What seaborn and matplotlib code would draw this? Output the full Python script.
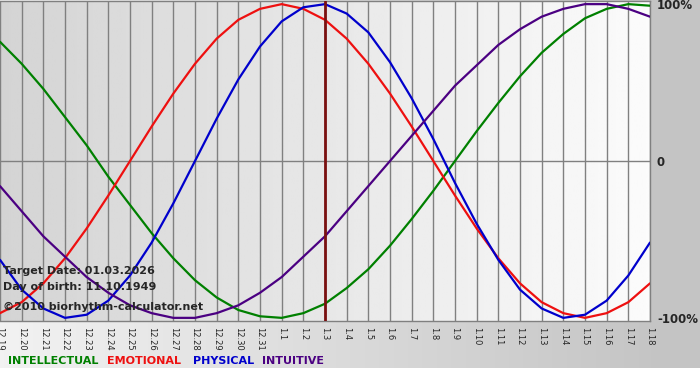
import seaborn as sns
import matplotlib.pyplot as plt
import pandas as pd
import numpy as np

# datas do eixo x (mes.dia), alvo = 1.3
rotulos_dias = ["12.19", "12.20", "12.21", "12.22", "12.23", "12.24", "12.25", "12.26",
                "12.27", "12.28", "12.29", "12.30", "12.31", "1.1", "1.2", "1.3",
                "1.4", "1.5", "1.6", "1.7", "1.8", "1.9", "1.10", "1.11", "1.12",
                "1.13", "1.14", "1.15", "1.16", "1.17", "1.18"]

intelectual = [0.76, 0.62, 0.46, 0.28, 0.10, -0.10, -0.28, -0.46, -0.62, -0.76, -0.87,
               -0.95, -0.99, -1.00, -0.97, -0.91, -0.81, -0.69, -0.54, -0.37, -0.19,
               0.00, 0.19, 0.37, 0.54, 0.69, 0.81, 0.91, 0.97, 1.00, 0.99]
emocional = [-0.97, -0.90, -0.78, -0.62, -0.43, -0.22, 0.00, 0.22, 0.43, 0.62, 0.78,
             0.90, 0.97, 1.00, 0.97, 0.90, 0.78, 0.62, 0.43, 0.22, 0.00, -0.22,
             -0.43, -0.62, -0.78, -0.90, -0.97, -1.00, -0.97, -0.90, -0.78]
fisico = [-0.63, -0.82, -0.94, -1.00, -0.98, -0.89, -0.73, -0.52, -0.27, 0.00, 0.27,
          0.52, 0.73, 0.89, 0.98, 1.00, 0.94, 0.82, 0.63, 0.40, 0.14, -0.14, -0.40,
          -0.63, -0.82, -0.94, -1.00, -0.98, -0.89, -0.73, -0.52]
intuitivo = [-0.16, -0.32, -0.48, -0.61, -0.74, -0.84, -0.92, -0.97, -1.00, -1.00,
             -0.97, -0.92, -0.84, -0.74, -0.61, -0.48, -0.32, -0.16, 0.00, 0.16, 0.32,
             0.48, 0.61, 0.74, 0.84, 0.92, 0.97, 1.00, 1.00, 0.97, 0.92]

nomes_series = ["INTELLECTUAL", "EMOTIONAL", "PHYSICAL", "INTUITIVE"]
cores = {"INTELLECTUAL": "#008000", "EMOTIONAL": "#ee1010",
         "PHYSICAL": "#0000cc", "INTUITIVE": "#4b0082"}
dia_alvo = "1.3"

dados = pd.DataFrame({
    "dia": list(range(len(rotulos_dias))) * 4,
    "valor": intelectual + emocional + fisico + intuitivo,
    "serie": [n for n in nomes_series for _ in rotulos_dias],
})

sns.set_style("white")
plt.rcParams["font.family"] = ["DejaVu Sans"]

fig = plt.figure(figsize=(7, 3.8), dpi=100)

# fundo geral (cinza em degrade + faixa branca embaixo)
fundo = fig.add_axes([0, 0, 1, 1], zorder=-5)
grad = np.linspace(0.95, 0.76, 700)
img = np.tile(grad, (380, 1))
img[:, 651:] = 0.77
img[368:, :] = 1.0
fundo.imshow(np.dstack([img] * 3), extent=[0, 700, 380, 0], aspect="auto")
fundo.set_xlim(0, 700)
fundo.set_ylim(380, 0)
fundo.axis("off")

ax = fig.add_axes([0, 59 / 380, 650 / 700, 320 / 380])
ax.imshow(np.linspace(0.83, 0.985, 256)[None, :], cmap="gray", vmin=0, vmax=1,
          extent=[0, len(rotulos_dias) - 1, -1.02, 1.02], aspect="auto", zorder=0)

sns.lineplot(data=dados, x="dia", y="valor", hue="serie", palette=cores,
             hue_order=nomes_series, linewidth=1.6, legend=False, ax=ax, zorder=3)

ax.set_xlim(0, len(rotulos_dias) - 1)
ax.set_ylim(-1.02, 1.02)
ax.set_xticks(range(len(rotulos_dias)))
ax.set_xticklabels(rotulos_dias, rotation=-90, fontsize=6)
ax.grid(axis="x", color="#808080", linewidth=1, zorder=1)
ax.set_axisbelow(False)
ax.axhline(0, color="#808080", linewidth=1, zorder=1)
ax.axvline(rotulos_dias.index(dia_alvo), color="#7a1010", linewidth=2, zorder=4)
ax.set_xlabel("")
ax.set_ylabel("")

ax.yaxis.tick_right()
ax.set_yticks([-1, 0, 1])
ax.set_yticklabels(["-100%", "0", "100%"], fontsize=8.5, fontweight="bold")
ax.tick_params(axis="y", length=0, pad=5)
ax.tick_params(axis="x", length=3, color="#808080", pad=1)
for lado, spine in ax.spines.items():
    spine.set_color("#808080")
    spine.set_linewidth(1)
ax.spines["left"].set_visible(False)

# textos informativos
infos = [("Target Date: 01.03.2026", 271), ("Day of birth: 11.10.1949", 287),
         ("\u00a92010 biorhythm-calculator.net", 307)]
for texto, y in infos:
    fig.text(3 / 700, (380 - y) / 380, texto, fontsize=8, fontweight="bold",
             va="center", ha="left", zorder=10)

# legenda em texto colorido
posicoes_legenda = [8, 107, 193, 262]
for nome, x in zip(nomes_series, posicoes_legenda):
    fig.text(x / 700, (380 - 361) / 380, nome, color=cores[nome], fontsize=8,
             fontweight="bold", va="center", ha="left")

fig.savefig("out.png", dpi=100)
